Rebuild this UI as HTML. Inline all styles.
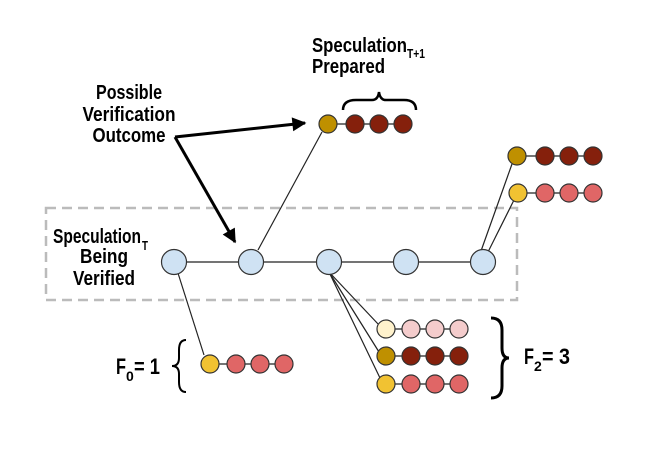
<!DOCTYPE html>
<html><head><style>body{margin:0;background:#fff}</style></head><body>
<svg width="658" height="454" xmlns="http://www.w3.org/2000/svg" font-family="Liberation Sans, sans-serif" font-size="20" font-weight="bold">
<defs>
<marker id="b" viewBox="0 0 10 10" refX="9" refY="5" markerWidth="18" markerHeight="14" orient="auto" markerUnits="userSpaceOnUse"><path d="M0,0 L10,5 L0,10z"/></marker></defs>
<rect x="46" y="208" width="471" height="92" fill="none" stroke="#bbb" stroke-width="2.5" stroke-dasharray="10,6"/>
<g stroke="#222" stroke-width="1.2" fill="none">
<line x1="174" y1="262" x2="483" y2="262"/>
<line x1="258" y1="250" x2="322" y2="132"/>
<line x1="481" y1="251" x2="512" y2="164"/>
<line x1="488" y1="252" x2="514" y2="200"/>
<line x1="329" y1="272" x2="379" y2="325"/>
<line x1="329" y1="272" x2="379" y2="352"/>
<line x1="329" y1="272" x2="380" y2="378"/>
<line x1="177" y1="270" x2="204" y2="355"/>
<line x1="328" y1="124" x2="404" y2="124"/>
<line x1="517" y1="156" x2="594" y2="156"/>
<line x1="518" y1="193" x2="594" y2="193"/>
<line x1="384" y1="329" x2="461" y2="329"/>
<line x1="384" y1="356" x2="461" y2="356"/>
<line x1="384" y1="384" x2="461" y2="384"/>
<line x1="209" y1="364" x2="286" y2="364"/>
</g>
<g stroke="#333" stroke-width="1.2">
<g fill="#cfe2f3"><circle cx="174" cy="262" r="12.5"/><circle cx="251" cy="262" r="12.5"/><circle cx="329" cy="262" r="12.5"/><circle cx="406" cy="262" r="12.5"/><circle cx="483" cy="262" r="12.5"/></g>
<circle cx="328" cy="124" r="9" fill="#bf9000"/><circle cx="355" cy="124" r="9" fill="#85200c"/><circle cx="379" cy="124" r="9" fill="#85200c"/><circle cx="403" cy="124" r="9" fill="#85200c"/>
<circle cx="517" cy="156" r="9" fill="#bf9000"/><circle cx="545" cy="156" r="9" fill="#85200c"/><circle cx="569" cy="156" r="9" fill="#85200c"/><circle cx="593" cy="156" r="9" fill="#85200c"/>
<circle cx="518" cy="193" r="9" fill="#f1c232"/><circle cx="545" cy="193" r="9" fill="#e06666"/><circle cx="569" cy="193" r="9" fill="#e06666"/><circle cx="593" cy="193" r="9" fill="#e06666"/>
<circle cx="386" cy="329" r="9" fill="#fff2cc"/><circle cx="411" cy="329" r="9" fill="#f4cccc"/><circle cx="435" cy="329" r="9" fill="#f4cccc"/><circle cx="459" cy="329" r="9" fill="#f4cccc"/>
<circle cx="386" cy="356" r="9" fill="#bf9000"/><circle cx="411" cy="356" r="9" fill="#85200c"/><circle cx="435" cy="356" r="9" fill="#85200c"/><circle cx="459" cy="356" r="9" fill="#85200c"/>
<circle cx="386" cy="384" r="9" fill="#f1c232"/><circle cx="411" cy="384" r="9" fill="#e06666"/><circle cx="435" cy="384" r="9" fill="#e06666"/><circle cx="459" cy="384" r="9" fill="#e06666"/>
<circle cx="210" cy="364" r="9" fill="#f1c232"/><circle cx="236" cy="364" r="9" fill="#e06666"/><circle cx="260" cy="364" r="9" fill="#e06666"/><circle cx="284" cy="364" r="9" fill="#e06666"/>
</g>
<g stroke="#000" stroke-width="3" fill="none">
<line x1="175" y1="137" x2="305" y2="123" marker-end="url(#b)"/>
<line x1="175" y1="137" x2="235" y2="242" marker-end="url(#b)"/>
<path d="M343,110 Q343,100 356,100 L372,100 Q378,100 379,92 Q380,100 386,100 L404,100 Q416,100 416,110" stroke-width="2.5"/>
<path d="M186,340 Q179,340 179,350 L179,358 Q179,366 172,366 Q179,366 179,374 L179,382 Q179,392 186,392" stroke-width="2"/>
<path d="M491,318 Q502,318 502,330 L502,348 Q502,358 509,358 Q502,358 502,368 L502,386 Q502,398 491,398" stroke-width="3"/>
</g>
<g text-anchor="middle" fill="#000">
<text x="129" y="99" textLength="66" lengthAdjust="spacingAndGlyphs">Possible</text>
<text x="129" y="121" textLength="93" lengthAdjust="spacingAndGlyphs">Verification</text>
<text x="129" y="142" textLength="73" lengthAdjust="spacingAndGlyphs">Outcome</text>
<text x="104" y="285" textLength="62" lengthAdjust="spacingAndGlyphs">Verified</text>
<text x="104" y="263" textLength="48" lengthAdjust="spacingAndGlyphs">Being</text>
</g>
<text x="53" y="243" textLength="88" lengthAdjust="spacingAndGlyphs">Speculation</text>
<text x="142" y="250" font-size="13" textLength="6" lengthAdjust="spacingAndGlyphs">T</text>
<text x="312" y="52" textLength="95" lengthAdjust="spacingAndGlyphs">Speculation</text>
<text x="407" y="58" font-size="13" textLength="18" lengthAdjust="spacingAndGlyphs">T+1</text>
<text x="312" y="73" textLength="73" lengthAdjust="spacingAndGlyphs">Prepared</text>
<text x="116" y="374" font-size="22" textLength="10" lengthAdjust="spacingAndGlyphs">F</text>
<text x="126" y="381" font-size="14">0</text>
<text x="134" y="374" font-size="22" textLength="26" lengthAdjust="spacingAndGlyphs">= 1</text>
<text x="524" y="364" font-size="22" textLength="10" lengthAdjust="spacingAndGlyphs">F</text>
<text x="534" y="371" font-size="14">2</text>
<text x="542" y="364" font-size="22" textLength="28" lengthAdjust="spacingAndGlyphs">= 3</text>
</svg>
</body></html>
